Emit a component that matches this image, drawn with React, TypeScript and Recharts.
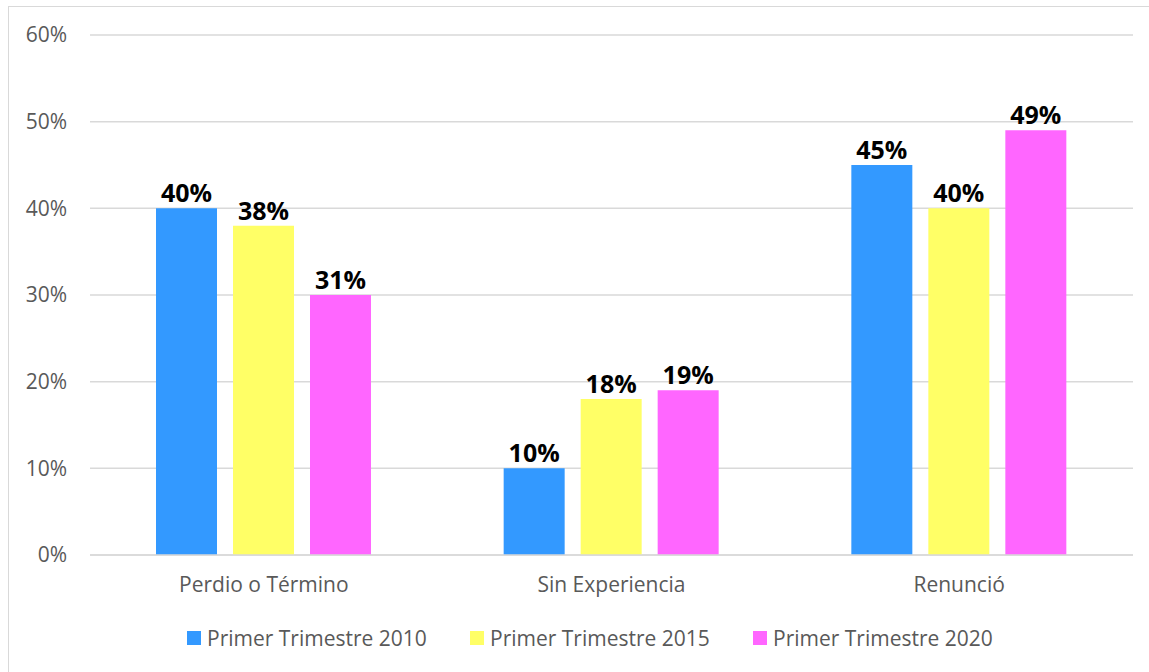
import { BarChart, Bar, XAxis, YAxis, CartesianGrid, Legend, LabelList } from "recharts";

const categories = ["Perdio o Término", "Sin Experiencia", "Renunció"];
const values2010 = [40, 10, 45];
const values2015 = [38, 18, 40];
const values2020 = [30, 19, 49];
const labels2010 = ["40%", "10%", "45%"];
const labels2015 = ["38%", "18%", "40%"];
const labels2020 = ["31%", "19%", "49%"];
const seriesNames = ["Primer Trimestre 2010", "Primer Trimestre 2015", "Primer Trimestre 2020"];
const seriesColors = ["#3399FF", "#FFFF66", "#FF66FF"];
const yTicks = [0, 10, 20, 30, 40, 50, 60];

const data = categories.map((name, i) => ({
  name,
  v2010: values2010[i],
  v2015: values2015[i],
  v2020: values2020[i],
  l2010: labels2010[i],
  l2015: labels2015[i],
  l2020: labels2020[i],
}));

const FONT = "'Open Sans', 'Noto Sans', sans-serif";
const GRAY = "#595959";
const GRID = "#D9D9D9";

function LegendBox() {
  return (
    <div style={{ display: "flex", alignItems: "center", height: 66, paddingLeft: 178, fontFamily: FONT }}>
      {seriesNames.map((n, i) => (
        <div key={n} style={{ display: "flex", alignItems: "center", width: 283 }}>
          <span style={{ width: 14, height: 14, background: seriesColors[i], marginRight: 6, display: "inline-block" }} />
          <span style={{ fontSize: 21, color: GRAY, whiteSpace: "nowrap" }}>{n}</span>
        </div>
      ))}
    </div>
  );
}

export default function App() {
  const keys = ["v2010", "v2015", "v2020"];
  const labelKeys = ["l2010", "l2015", "l2020"];
  return (
    <div
      style={{
        position: "absolute",
        left: 8,
        top: 6,
        width: 1141,
        height: 666,
        border: `1px solid ${GRID}`,
        background: "#fff",
        fontFamily: FONT,
      }}
    >
      <BarChart
        width={1140}
        height={664}
        data={data}
        margin={{ top: 28, right: 16, left: 0, bottom: 0 }}
        barGap={16}
        barCategoryGap={66}
      >
        <CartesianGrid vertical={false} stroke={GRID} strokeWidth={1.5} />
        <XAxis
          dataKey="name"
          height={50}
          tickLine={false}
          tickSize={0}
          tickMargin={22}
          axisLine={{ stroke: GRID, strokeWidth: 1.5 }}
          tick={{ fill: GRAY, fontSize: 21 }}
        />
        <YAxis
          width={81}
          domain={[0, 60]}
          ticks={yTicks}
          tickFormatter={(v) => `${v}%`}
          axisLine={false}
          tickLine={false}
          tickSize={0}
          tickMargin={23}
          tick={{ fill: GRAY, fontSize: 21 }}
        />
        <Legend verticalAlign="bottom" height={66} content={() => <LegendBox />} />
        {keys.map((k, i) => (
          <Bar key={k} dataKey={k} name={seriesNames[i]} fill={seriesColors[i]} isAnimationActive={false}>
            <LabelList
              dataKey={labelKeys[i]}
              position="top"
              offset={6}
              style={{ fill: "#000", fontSize: 25, fontWeight: 700 }}
            />
          </Bar>
        ))}
      </BarChart>
    </div>
  );
}
